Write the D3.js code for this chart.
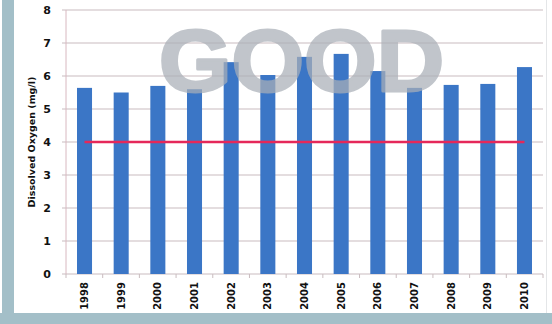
<!DOCTYPE html>
<html>
<head>
<meta charset="utf-8">
<script src="https://cdn.jsdelivr.net/npm/d3@7"></script>
<style>
  body { margin: 0; background: #fff; }
  svg { display: block; }
</style>
</head>
<body>
<div id="graph"></div>
<script>
var w = 552
var h = 324

// data
var years = ["1998", "1999", "2000", "2001", "2002", "2003", "2004", "2005", "2006", "2007", "2008", "2009", "2010"]
var oxygen = [5.64, 5.5, 5.7, 5.6, 6.42, 6.03, 6.58, 6.67, 6.15, 5.64, 5.73, 5.76, 6.27]
var yTicks = [0, 1, 2, 3, 4, 5, 6, 7, 8]
var standard = 4

// plot area (note: "top" is reserved on window, so use other names)
var plotL = 66, plotR = 543, plotT = 10, plotB = 274

var svg = d3.select("#graph").append("svg")
    .attr("width", w)
    .attr("height", h)

// frame (scanned page border)
svg.append("rect").attr("x", 0).attr("y", 0).attr("width", w).attr("height", h).attr("fill", "#ffffff")
svg.append("rect").attr("x", 2).attr("y", 0).attr("width", 12).attr("height", h).attr("fill", "#a3bfc8")
svg.append("rect").attr("x", 0).attr("y", 313).attr("width", w).attr("height", 11).attr("fill", "#a3bfc8")
svg.append("rect").attr("x", 546).attr("y", 0).attr("width", 1).attr("height", 313).attr("fill", "#e4e6e8")

var x = d3.scaleBand()
    .domain(years)
    .range([plotL, plotR])
    .paddingInner(0.59)
    .paddingOuter(0.3)

var y = d3.scaleLinear()
    .domain([0, 8])
    .range([plotB, plotT])

// gridlines
svg.append("g")
    .selectAll("line")
    .data(yTicks)
    .join("line")
    .attr("x1", plotL - 4)
    .attr("x2", plotR)
    .attr("y1", function (d) { return y(d) })
    .attr("y2", function (d) { return y(d) })
    .attr("stroke", "#c9bcbf")
    .attr("stroke-width", 1.2)

// y axis line
svg.append("line")
    .attr("x1", plotL).attr("x2", plotL)
    .attr("y1", plotT).attr("y2", plotB)
    .attr("stroke", "#d8b8c0")

// x axis ticks between categories
svg.append("g")
    .selectAll("line")
    .data(d3.range(years.length + 1))
    .join("line")
    .attr("x1", function (i) { return plotL + i * (plotR - plotL) / years.length })
    .attr("x2", function (i) { return plotL + i * (plotR - plotL) / years.length })
    .attr("y1", plotB)
    .attr("y2", plotB + 4)
    .attr("stroke", "#c9bcbf")

// bars
svg.append("g")
    .selectAll("rect")
    .data(oxygen)
    .join("rect")
    .attr("x", function (d, i) { return x(years[i]) })
    .attr("y", function (d) { return y(d) })
    .attr("width", x.bandwidth())
    .attr("height", function (d) { return y(0) - y(d) })
    .attr("fill", "#3b76c6")

// standard line
svg.append("line")
    .attr("x1", x(years[0]) + x.bandwidth() / 2)
    .attr("x2", x(years[years.length - 1]) + x.bandwidth() / 2)
    .attr("y1", y(standard))
    .attr("y2", y(standard))
    .attr("stroke", "#e5285a")
    .attr("stroke-width", 2.5)

// big GOOD label, translucent so the bars show through
svg.append("text")
    .attr("x", 159)
    .attr("y", 91)
    .attr("textLength", 285)
    .attr("lengthAdjust", "spacingAndGlyphs")
    .attr("font-family", "Liberation Sans, Arial, sans-serif")
    .attr("font-weight", "bold")
    .attr("font-size", 87)
    .attr("fill", "#aab0b8")
    .attr("stroke", "#aab0b8")
    .attr("stroke-width", 3)
    .attr("stroke-linejoin", "round")
    .attr("opacity", 0.72)
    .text("GOOD")

// y tick labels
svg.append("g")
    .selectAll("text")
    .data(yTicks)
    .join("text")
    .attr("x", 51)
    .attr("y", function (d) { return y(d) + 4 })
    .attr("text-anchor", "end")
    .attr("font-family", "DejaVu Sans, sans-serif")
    .attr("font-weight", "bold")
    .attr("font-size", 11)
    .attr("fill", "#111")
    .text(function (d) { return d })

// x labels (rotated)
svg.append("g")
    .selectAll("text")
    .data(years)
    .join("text")
    .attr("transform", function (d) { return "translate(" + (x(d) + x.bandwidth() / 2 + 3.5) + "," + 282 + ") rotate(-90)" })
    .attr("text-anchor", "end")
    .attr("font-family", "DejaVu Sans, sans-serif")
    .attr("font-weight", "bold")
    .attr("font-size", 10)
    .attr("fill", "#111")
    .text(function (d) { return d })

// y axis title
svg.append("text")
    .attr("transform", "translate(35," + 142 + ") rotate(-90)")
    .attr("text-anchor", "middle")
    .attr("font-family", "DejaVu Sans, sans-serif")
    .attr("font-weight", "bold")
    .attr("font-size", 9.5)
    .attr("fill", "#111")
    .text("Dissolved Oxygen (mg/l)")
</script>
</body>
</html>
